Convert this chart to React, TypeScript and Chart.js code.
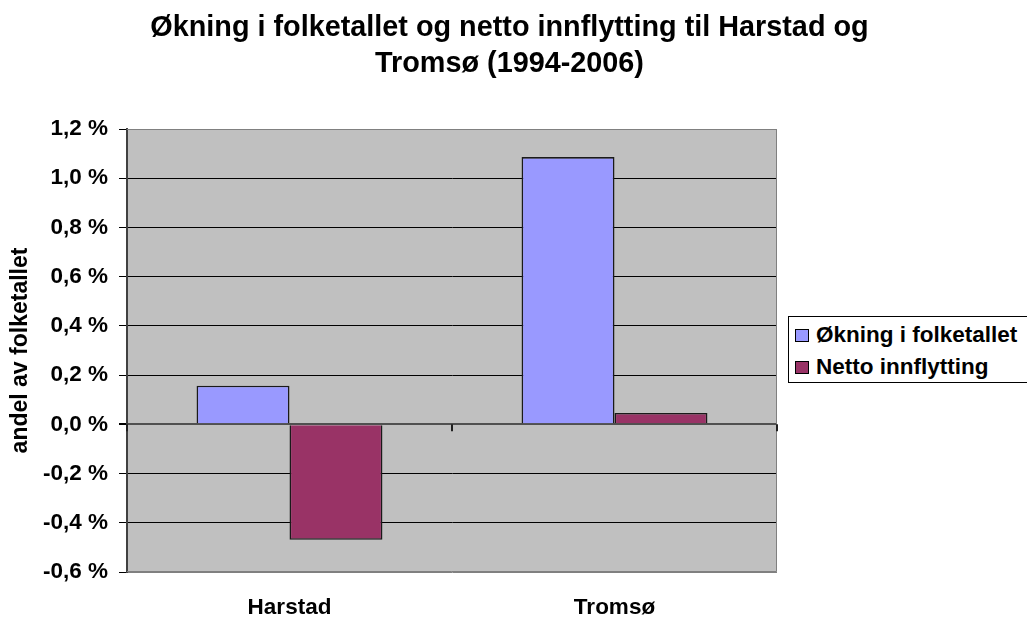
import React, { useEffect, useRef } from "react";
import { Chart, registerables } from "chart.js";

Chart.register(...registerables);

// ---- data ----
const categories = ["Harstad", "Tromsø"];
const seriesNames = ["Økning i folketallet", "Netto innflytting"];
const okningValues = [0.157, 1.086];
const nettoValues = [-0.469, 0.046];
const yMin = -0.6;
const yMax = 1.2;
const yStep = 0.2;
const titleLines = [
  "Økning i folketallet og netto innflytting til Harstad og",
  "Tromsø (1994-2006)",
];
const yAxisTitle = "andel av folketallet";
const seriesColors = ["#9999FF", "#993366"];

const FONT = "Arial, 'Liberation Sans', Helvetica, sans-serif";

const fmtTick = (v: number) =>
  (Math.round(v * 10) / 10).toFixed(1).replace(".", ",") + " %";

const plotDecor = {
  id: "plotDecor",
  beforeDraw(chart: any) {
    const { ctx, chartArea } = chart;
    const { left, top, right, bottom } = chartArea;
    ctx.save();
    ctx.fillStyle = "#C0C0C0";
    ctx.fillRect(left, top, right - left, bottom - top);
    ctx.restore();
  },
  afterDraw(chart: any) {
    const { ctx, chartArea, scales } = chart;
    const { left, top, right, bottom } = chartArea;
    ctx.save();
    ctx.strokeStyle = "#808080";
    ctx.lineWidth = 1;
    ctx.beginPath();
    ctx.moveTo(left, top + 0.5);
    ctx.lineTo(right - 0.5, top + 0.5);
    ctx.lineTo(right - 0.5, bottom - 0.5);
    ctx.lineTo(left, bottom - 0.5);
    ctx.stroke();
    // category boundary tick marks on the zero line
    const y0 = scales.y.getPixelForValue(0);
    const n = categories.length;
    ctx.strokeStyle = "#202020";
    ctx.lineWidth = 2;
    for (let i = 0; i <= n; i++) {
      const x = Math.round(left + (i * (right - left)) / n);
      ctx.beginPath();
      ctx.moveTo(x, y0);
      ctx.lineTo(x, y0 + 7);
      ctx.stroke();
    }
    ctx.restore();
  },
};

export default function App() {
  const canvasRef = useRef<HTMLCanvasElement | null>(null);

  useEffect(() => {
    document.body.style.margin = "0";
    const canvas = canvasRef.current;
    if (!canvas) return;
    const chart = new Chart(canvas, {
      type: "bar",
      data: {
        labels: categories,
        datasets: [
          {
            label: seriesNames[0],
            data: okningValues,
            backgroundColor: seriesColors[0],
            borderColor: "#1a1a1a",
            borderWidth: 1.6,
            barPercentage: 1,
            categoryPercentage: 0.572,
          },
          {
            label: seriesNames[1],
            data: nettoValues,
            backgroundColor: seriesColors[1],
            borderColor: "#1a1a1a",
            borderWidth: 1.6,
            barPercentage: 1,
            categoryPercentage: 0.572,
          },
        ],
      },
      options: {
        responsive: false,
        animation: false,
        devicePixelRatio: 1,
        layout: { padding: { top: 129, right: 250, bottom: 0, left: 0 } },
        plugins: {
          legend: { display: false },
          title: { display: false },
          tooltip: { enabled: false },
        },
        scales: {
          x: {
            afterFit(s: any) {
              s.height = 45;
            },
            grid: { display: false, drawTicks: false, tickLength: 0 },
            border: { display: false },
            ticks: {
              padding: 22,
              color: "#000",
              maxRotation: 0,
              font: { family: FONT, size: 22.5, weight: "bold" },
            },
          },
          y: {
            min: yMin,
            max: yMax,
            afterFit(s: any) {
              s.width = 127;
            },
            ticks: {
              stepSize: yStep,
              padding: 11,
              color: "#000",
              font: { family: FONT, size: 22.5, weight: "bold" },
              callback: (v: any) => fmtTick(Number(v)),
            },
            grid: {
              color: (c: any) => {
                const v = c.tick ? c.tick.value : 0;
                if (Math.abs(v) < 1e-9) return "#505050";
                if (Math.abs(v - yMax) < 1e-9 || Math.abs(v - yMin) < 1e-9)
                  return "#808080";
                return "#000000";
              },
              lineWidth: (c: any) => {
                const v = c.tick ? c.tick.value : 1;
                return Math.abs(v) < 1e-9 ? 2 : 1;
              },
              tickColor: "#000",
              tickLength: 8,
              drawTicks: true,
            },
            border: { display: true, color: "#404040", width: 2 },
            title: {
              display: true,
              text: yAxisTitle,
              color: "#000",
              font: { family: FONT, size: 23, weight: "bold" },
              padding: { top: 7, bottom: 0 },
            },
          },
        },
      },
      plugins: [plotDecor],
    } as any);
    return () => chart.destroy();
  }, []);

  return (
    <div
      style={{
        position: "relative",
        width: 1027,
        height: 617,
        overflow: "hidden",
        background: "#fff",
        fontFamily: FONT,
      }}
    >
      <canvas
        ref={canvasRef}
        width={1027}
        height={617}
        style={{ position: "absolute", left: 0, top: 0, display: "block" }}
      />
      <div
        style={{
          position: "absolute",
          left: -4,
          top: 8,
          width: 1027,
          textAlign: "center",
          fontWeight: "bold",
          fontSize: 28.8,
          lineHeight: "36px",
          color: "#000",
          whiteSpace: "nowrap",
        }}
      >
        {titleLines.map((t, i) => (
          <div key={i}>{t}</div>
        ))}
      </div>
      <div
        style={{
          position: "absolute",
          left: 788,
          top: 316,
          width: 260,
          height: 67,
          border: "1px solid #000",
          background: "#fff",
          boxSizing: "border-box",
        }}
      />
      {seriesNames.map((name, i) => (
        <React.Fragment key={name}>
          <div
            style={{
              position: "absolute",
              left: 795,
              top: 329 + i * 32,
              width: 14,
              height: 13,
              background: seriesColors[i],
              border: "1px solid #000",
              boxSizing: "border-box",
            }}
          />
          <div
            style={{
              position: "absolute",
              left: 816,
              top: 322 + i * 32,
              fontWeight: "bold",
              fontSize: 22.5,
              lineHeight: "26px",
              color: "#000",
              whiteSpace: "nowrap",
            }}
          >
            {name}
          </div>
        </React.Fragment>
      ))}
    </div>
  );
}
